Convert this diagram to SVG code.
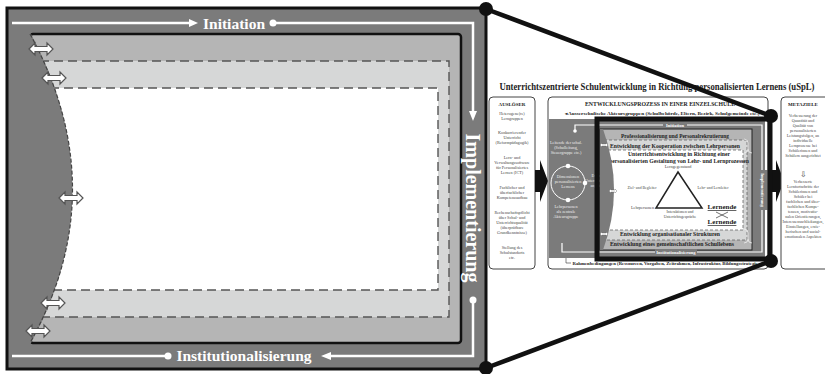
<svg xmlns="http://www.w3.org/2000/svg" width="825" height="374" viewBox="0 0 825 374">
<style>
.lbl{font-family:"Liberation Serif","Times New Roman",serif;font-weight:bold;fill:#fff}
.t{font-family:"Liberation Serif","Times New Roman",serif;fill:#444;text-anchor:middle}
.tw{font-family:"Liberation Serif","Times New Roman",serif;fill:#eee;text-anchor:middle}
.b{font-weight:bold;fill:#222}
.dash{stroke:#555;stroke-width:1.4;stroke-dasharray:9 5}
.dashs{stroke:#666;stroke-width:0.8;stroke-dasharray:3 2}
.wl{stroke:#fff;stroke-width:2.5;fill:none}
.wls{stroke:#fff;stroke-width:1.2;fill:none}
.box{fill:#fff;stroke:#444;stroke-width:1}
</style>
<defs>
<path id="dbl" d="M-12,0 L-6,-6 L-6,-2.5 L6,-2.5 L6,-6 L12,0 L6,6 L6,2.5 L-6,2.5 L-6,6 Z" fill="#fff" stroke="#555" stroke-width="1.2"/>
<path id="dbls" d="M-4,0 L-2,-2 L-2,-1 L2,-1 L2,-2 L4,0 L2,2 L2,1 L-2,1 L-2,2 Z" fill="#fff" stroke="#666" stroke-width="0.4"/>
</defs>
<rect width="825" height="374" fill="#fff"/>

<g id="zoom-panel">
<rect x="7" y="8" width="479" height="361" fill="#7b7b7b" stroke="#111" stroke-width="3"/>
<rect x="30" y="34" width="431" height="309" rx="3" fill="#b5b5b5" stroke="#111" stroke-width="2.5"/>
<rect x="40" y="61" width="409" height="256" fill="#d6d7d7" class="dash"/>
<rect x="50" y="88" width="388" height="202" fill="#fff" class="dash"/>
<path d="M20,32 L30,32 Q115,190 30,345 L20,345 Z" fill="#7b7b7b"/>
<path d="M30,34 Q115,190 30,343" fill="none" stroke="#444" stroke-width="1.2" stroke-dasharray="4 2"/>
<use href="#dbl" x="41" y="49"/>
<use href="#dbl" x="54" y="78"/>
<use href="#dbl" x="71" y="198"/>
<use href="#dbl" x="53" y="303"/>
<use href="#dbl" x="38" y="331"/>
</g>

<g id="flow-labels">
<path class="wl" d="M12,23 H190"/>
<polygon points="198,23 189,19 189,27" fill="#fff"/>
<text x="234" y="28.5" class="lbl" font-size="15.5" text-anchor="middle">Initiation</text>
<circle cx="273" cy="23" r="3.5" fill="#fff"/>
<path class="wl" d="M273,23 H473 V112"/>
<polygon points="473,121 469,111 477,111" fill="#fff"/>
<text transform="translate(473,208) rotate(90)" class="lbl" font-size="20" text-anchor="middle" dominant-baseline="central">Implementierung</text>
<circle cx="473" cy="300" r="3.5" fill="#fff"/>
<path class="wl" d="M473,300 V356 H330"/>
<polygon points="321,356 331,352 331,360" fill="#fff"/>
<text x="244" y="361" class="lbl" font-size="15.5" text-anchor="middle">Institutionalisierung</text>
<circle cx="168" cy="356" r="3.5" fill="#fff"/>
<path class="wl" d="M168,356 H12"/>
</g>

<g id="overview">
<text x="657" y="90" class="t b" font-size="9.5" textLength="315" lengthAdjust="spacingAndGlyphs">Unterrichtszentrierte Schulentwicklung in Richtung personalisierten Lernens (uSpL)</text>

<g id="ausloeser">
<rect x="489" y="97" width="46" height="172" rx="4" class="box"/>
<text x="512" y="106" class="t b" font-size="5">AUSLÖSER</text>
<g font-size="4.2">
<text x="512" y="115" class="t">Heterogene(re)</text>
<text x="512" y="120" class="t">Lerngruppen</text>
<text x="512" y="134" class="t">Konkurrierender</text>
<text x="512" y="139" class="t">Unterricht</text>
<text x="512" y="144" class="t">(Reformpädagogik)</text>
<text x="512" y="159" class="t">Lern- und</text>
<text x="512" y="164" class="t">Verwaltungssoftware</text>
<text x="512" y="169" class="t">für Personalisiertes</text>
<text x="512" y="174" class="t">Lernen (ICT)</text>
<text x="512" y="189" class="t">Fachlicher und</text>
<text x="512" y="194" class="t">überfachlicher</text>
<text x="512" y="199" class="t">Kompetenzaufbau</text>
<text x="512" y="214" class="t">Rechenschaftspflicht</text>
<text x="512" y="219" class="t">über Schul- und</text>
<text x="512" y="224" class="t">Unterrichtsqualität</text>
<text x="512" y="229" class="t">(überprüfbare</text>
<text x="512" y="234" class="t">Grundkenntnisse)</text>
<text x="512" y="249" class="t">Stellung des</text>
<text x="512" y="254" class="t">Schulstandorts</text>
<text x="512" y="259" class="t">etc.</text>
</g>
</g>

<polygon points="535,170 540,170 540,160 548,181 540,202 540,192 535,192" fill="#111"/>

<g id="entwicklung">
<rect x="548" y="97" width="220" height="172" rx="4" class="box"/>
<text x="660" y="106" class="t b" font-size="5.5" textLength="150" lengthAdjust="spacingAndGlyphs">ENTWICKLUNGSPROZESS IN EINER EINZELSCHULE</text>
<text x="662" y="115" class="t b" font-size="4.3" textLength="195" lengthAdjust="spacingAndGlyphs">◂ Ausserschulische Akteursgruppen (Schulbehörde, Eltern, Bezirk, Schulgemeinde etc.)</text>
<rect x="549" y="119" width="216" height="139" fill="#7b7b7b"/>
<path class="wls" d="M575,131 V125 H600"/>
<circle cx="575" cy="131" r="1.8" fill="#fff"/>
<path class="wls" d="M562,243 V252 H600"/>
<g font-size="4.2">
<text x="566" y="144" class="tw">Leitende der schul.</text>
<text x="566" y="149" class="tw">(Schulleitung,</text>
<text x="566" y="154" class="tw">Steuergruppe etc.)</text>
<text x="568" y="178" class="tw">Dimensionen</text>
<text x="568" y="183" class="tw">personalisierten</text>
<text x="568" y="188" class="tw">Lernens</text>
<text x="566" y="208" class="tw">Lehrpersonen</text>
<text x="566" y="213" class="tw">als zentrale</text>
<text x="566" y="218" class="tw">Akteursgruppe</text>
<text x="598" y="177" class="tw">Externe</text>
<text x="598" y="182" class="tw">Unterstützungs-</text>
<text x="598" y="187" class="tw">angebote</text>
</g>
<circle cx="568" cy="183" r="17" fill="none" stroke="#fff" stroke-width="1"/>
<circle cx="568" cy="166" r="2.3" fill="#fff"/>
<circle cx="568" cy="200" r="2.3" fill="#fff"/>
<circle cx="585" cy="183" r="2.3" fill="#fff"/>
<path d="M566,258 V263 H571" fill="none" stroke="#333" stroke-width="0.6"/>
<text x="670" y="265" class="t b" font-size="4.3" textLength="195" lengthAdjust="spacingAndGlyphs">Rahmenbedingungen (Ressourcen, Vorgaben, Zeitrahmen, Infrastruktur, Bildungsstrategie etc.)</text>
</g>

<g id="mini-panel">
<rect x="600" y="129" width="152" height="121" fill="#b5b5b5" stroke="#222" stroke-width="1"/>
<text x="675" y="137.5" class="t b" font-size="5.3" textLength="108" lengthAdjust="spacingAndGlyphs">Professionalisierung und Personalrekrutierung</text>
<rect x="604" y="140" width="143" height="100" fill="#d6d7d7" class="dashs"/>
<text x="675" y="147.5" class="t b" font-size="5.3" textLength="130" lengthAdjust="spacingAndGlyphs">Entwicklung der Kooperation zwischen Lehrpersonen</text>
<rect x="608" y="150" width="135" height="80" fill="#fff" class="dashs"/>
<text x="679" y="156" class="t b" font-size="5.5" textLength="102" lengthAdjust="spacingAndGlyphs">Unterrichtsentwicklung in Richtung einer</text>
<text x="679" y="163" class="t b" font-size="5.5" textLength="140" lengthAdjust="spacingAndGlyphs">personalisierten Gestaltung von Lehr- und Lernprozessen</text>
<text x="678" y="168" class="t" font-size="4.2">Lerngegenstand</text>
<polygon points="678,172 656,208 702,208" fill="#fff" stroke="#222" stroke-width="1.5"/>
<text x="642" y="189" class="t" font-size="3.8">Ziel- und Begleiter</text>
<text x="713" y="189" class="t" font-size="3.8">Lehr- und Lernleiter</text>
<text x="654" y="209" class="t" font-size="4.2" text-anchor="end" style="text-anchor:end">Lehrpersonen</text>
<text x="680" y="213" class="t" font-size="3.8">Interaktionen und</text>
<text x="680" y="218" class="t" font-size="3.8">Unterrichtsgespräche</text>
<text x="722" y="209" class="t b" font-size="7" text-decoration="underline">Lernende</text>
<text x="722" y="224" class="t b" font-size="7" text-decoration="underline">Lernende</text>
<path d="M716,212 L728,218 M728,212 L716,218" stroke="#333" stroke-width="0.7"/>
<text x="670" y="236" class="t b" font-size="5.3" textLength="100" lengthAdjust="spacingAndGlyphs">Entwicklung organisationaler Strukturen</text>
<text x="672" y="245.5" class="t b" font-size="5.3" textLength="124" lengthAdjust="spacingAndGlyphs">Entwicklung eines gemeinschaftlichen Schullebens</text>
<path d="M600,129 L603,129 Q625,190 603,250 L600,250 Z" fill="#7b7b7b"/>
<use href="#dbls" x="604" y="145"/>
<use href="#dbls" x="613" y="191"/>
<use href="#dbls" x="604" y="234"/>
<path d="M744,139 q4,0 4,4 v6 q0,4 4,4 M744,153 q4,0 4,-4" fill="none" stroke="#eee" stroke-width="0.8"/>
<path d="M744,229 q4,0 4,4 v6 q0,4 4,4 M744,243 q4,0 4,-4" fill="none" stroke="#eee" stroke-width="0.8"/>
<path class="wls" d="M600,125 H762 V252 H600"/>
<rect x="663" y="122" width="24" height="6" fill="#7b7b7b"/>
<text x="675" y="127" class="tw b" font-size="4.5" style="fill:#fff">Initiation</text>
<rect x="755" y="170" width="14" height="40" fill="#7b7b7b"/>
<text transform="translate(762,190) rotate(90)" class="tw b" font-size="4.5" dominant-baseline="central" style="fill:#fff">Implementierung</text>
<rect x="655" y="249" width="42" height="6" fill="#7b7b7b"/>
<text x="676" y="254" class="tw b" font-size="4.5" style="fill:#fff">Institutionalisierung</text>
</g>

<polygon points="770,170 776,170 776,160 784,181 776,202 776,192 770,192" fill="#111"/>

<g id="metaziele">
<rect x="781" y="97" width="50" height="172" rx="4" class="box"/>
<text x="803" y="106" class="t b" font-size="5">METAZIELE</text>
<g font-size="4.1">
<text x="803" y="117" class="t">Verbesserung der</text>
<text x="803" y="122" class="t">Quantität und</text>
<text x="803" y="127" class="t">Qualität von</text>
<text x="803" y="132" class="t">personalisierten</text>
<text x="803" y="137" class="t">Leistungsfolgen, an</text>
<text x="803" y="142" class="t">individuelle</text>
<text x="803" y="147" class="t">Lernprozesse bei</text>
<text x="803" y="152" class="t">Schülerinnen und</text>
<text x="803" y="157" class="t">Schülern ausgerichtet</text>
<text x="803" y="177" class="t" font-size="8">⇩</text>
<text x="803" y="183" class="t">Verbesserte</text>
<text x="803" y="188" class="t">Lernfortschritte der</text>
<text x="803" y="193" class="t">Schülerinnen und</text>
<text x="803" y="198" class="t">Schüler bei</text>
<text x="803" y="203" class="t">fachlichen und über-</text>
<text x="803" y="208" class="t">fachlichen Kompe-</text>
<text x="803" y="213" class="t">tenzen, motivatio-</text>
<text x="803" y="218" class="t">nalen Orientierungen,</text>
<text x="803" y="223" class="t">Interessensschließungen,</text>
<text x="803" y="228" class="t">Einstellungen, erzie-</text>
<text x="803" y="233" class="t">herischen und sozial-</text>
<text x="803" y="238" class="t">emotionalen Aspekten</text>
</g>
</g>
</g>

<g id="connectors">
<rect x="597" y="119" width="173" height="140" fill="none" stroke="#111" stroke-width="5"/>
<path d="M486,9 L771,116 M486,368 L771,261" stroke="#111" stroke-width="4.5" fill="none"/>
<circle cx="486" cy="9" r="7" fill="#111"/>
<circle cx="486" cy="368" r="7" fill="#111"/>
<circle cx="771" cy="116" r="7" fill="#111"/>
<circle cx="771" cy="261" r="7" fill="#111"/>
</g>
</svg>
